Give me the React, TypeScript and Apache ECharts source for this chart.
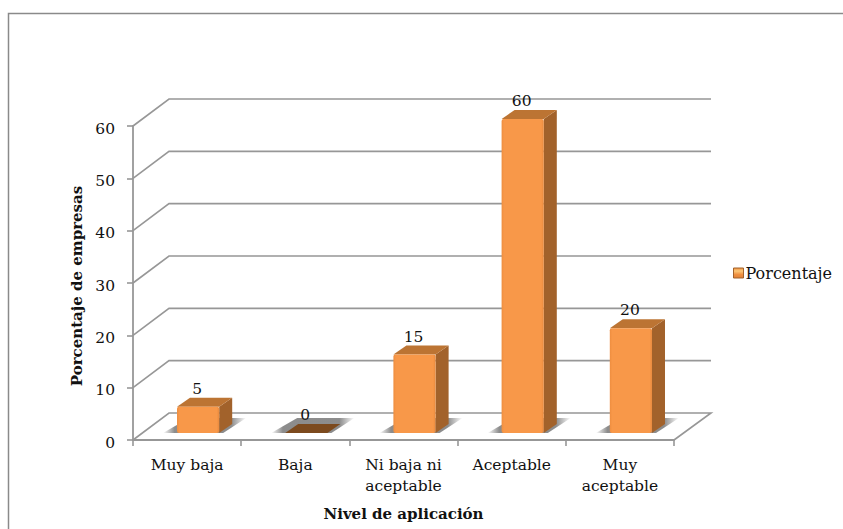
import React, { useEffect, useRef } from "react";
import * as echarts from "echarts";

const categories = ["Muy baja", "Baja", "Ni baja ni\naceptable", "Aceptable", "Muy\naceptable"];
const valores = [5, 0, 15, 60, 20];
const nivelesEje = [0, 10, 20, 30, 40, 50, 60];
const serieNombre = "Porcentaje";
const tituloX = "Nivel de aplicación";
const tituloY = "Porcentaje de empresas";

const FONT = "DejaVu Serif";
const TEXTO = 15.5;
const GRIS = "#979797";
// Oblique projection of the depth axis, in pixels
const FONDO_X = 36;
const FONDO_Y = -27;
// Bars stand half way along the floor
const BARRA_DX = 11;
const BARRA_DY = -7;
const PROF_X = 13;
const PROF_Y = -9;

function renderPared(params: any, api: any) {
  const cs = params.coordSys;
  const [, y] = api.coord([0, api.value(0)]);
  const izq = cs.x;
  const der = cs.x + cs.width;
  const puntos: number[][] = [[izq, y], [izq + FONDO_X, y + FONDO_Y], [der + FONDO_X + 1, y + FONDO_Y]];
  if (api.value(0) === 0) puntos.push([der, y]);
  return {
    type: "polyline",
    shape: { points: puntos },
    style: { stroke: GRIS, lineWidth: 1.6, fill: "none" },
    silent: true,
  };
}

function renderBarra(params: any, api: any) {
  const valor = api.value(1);
  const [cx, yTop] = api.coord([api.value(0), valor]);
  const [, yBase] = api.coord([api.value(0), 0]);
  const ancho = api.size([1, 0])[0] * 0.39;
  const x0 = cx + BARRA_DX - ancho / 2;
  const x1 = x0 + ancho;
  const y0 = yBase + BARRA_DY;
  const y1 = yTop + BARRA_DY;
  const sombra = {
    type: "polygon",
    shape: {
      points: [
        [x0 - 14, y0],
        [x1 + 4, y0],
        [x1 + 27, y0 - 15],
        [x0 + 12, y0 - 15],
      ],
    },
    style: {
      fill: new echarts.graphic.LinearGradient(0, 0, 1, 0, [
        { offset: 0, color: "rgba(120,120,120,0)" },
        { offset: 0.14, color: "rgba(120,120,120,0.85)" },
        { offset: 0.82, color: "rgba(120,120,120,0.85)" },
        { offset: 1, color: "rgba(120,120,120,0)" },
      ]),
    },
  };
  const etiqueta = {
    type: "text",
    style: {
      text: String(valor),
      x: cx + BARRA_DX - 1,
      y: y1 - 18,
      fill: "#111",
      font: `${TEXTO}px "${FONT}"`,
      align: "center",
      verticalAlign: "middle",
    },
  };
  if (valor === 0) {
    return {
      type: "group",
      children: [
        sombra,
        {
          type: "polygon",
          shape: {
            points: [
              [x0, y0],
              [x1, y0],
              [x1 + PROF_X, y0 + PROF_Y],
              [x0 + PROF_X, y0 + PROF_Y],
            ],
          },
          style: { fill: "#7C4A1E" },
        },
        etiqueta,
      ],
    };
  }
  return {
    type: "group",
    children: [
      sombra,
      {
        type: "polygon",
        shape: {
          points: [
            [x1, y0],
            [x1 + PROF_X, y0 + PROF_Y],
            [x1 + PROF_X, y1 + PROF_Y],
            [x1, y1],
          ],
        },
        style: { fill: "#A2622B" },
      },
      {
        type: "polygon",
        shape: {
          points: [
            [x0, y1],
            [x1, y1],
            [x1 + PROF_X, y1 + PROF_Y],
            [x0 + PROF_X, y1 + PROF_Y],
          ],
        },
        style: { fill: "#BC7433" },
      },
      {
        type: "rect",
        shape: { x: x0, y: y1, width: ancho, height: y0 - y1, r: 2 },
        style: {
          fill: new echarts.graphic.LinearGradient(0, 0, 1, 0, [
            { offset: 0, color: "#EE8E40" },
            { offset: 0.06, color: "#F89849" },
            { offset: 0.94, color: "#F89849" },
            { offset: 1, color: "#E88A3E" },
          ]),
        },
      },
      etiqueta,
    ],
  };
}

export default function App() {
  const ref = useRef<HTMLDivElement>(null);

  useEffect(() => {
    const chart = echarts.init(ref.current!, null, { renderer: "svg" });
    const muestra = new echarts.graphic.LinearGradient(0, 0, 0, 1, [
      { offset: 0, color: "#F09040" },
      { offset: 0.3, color: "#FBC878" },
      { offset: 0.65, color: "#F09040" },
      { offset: 1, color: "#E08238" },
    ]);
    chart.setOption({
      animation: false,
      backgroundColor: "#fff",
      textStyle: { fontFamily: FONT },
      grid: { left: 133, top: 126, width: 541, height: 314, containLabel: false },
      legend: {
        show: true,
        left: 733,
        top: 265,
        padding: 0,
        orient: "vertical",
        icon: "rect",
        itemWidth: 10,
        itemHeight: 10,
        itemGap: 0,
        data: [
          {
            name: serieNombre,
            itemStyle: { color: muestra, borderColor: "#A2622B", borderWidth: 1 },
          },
        ],
        textStyle: { fontFamily: FONT, fontSize: 16, color: "#111", padding: [0, 0, 0, -3] },
      },
      xAxis: {
        type: "category",
        data: categories,
        boundaryGap: true,
        name: tituloX,
        nameLocation: "middle",
        nameGap: 66,
        nameTextStyle: { fontFamily: FONT, fontSize: 15, fontWeight: "bold", color: "#111" },
        axisLine: { lineStyle: { color: GRIS, width: 1.8 } },
        axisTick: { show: true, alignWithLabel: false, length: 6, lineStyle: { color: GRIS, width: 1.6 } },
        axisLabel: { fontFamily: FONT, fontSize: TEXTO, color: "#111", margin: 14, lineHeight: 21, interval: 0 },
        splitLine: { show: false },
      },
      yAxis: {
        type: "value",
        min: 0,
        max: 60,
        interval: 10,
        name: tituloY,
        nameLocation: "middle",
        nameGap: 49,
        nameTextStyle: { fontFamily: FONT, fontSize: 15, fontWeight: "bold", color: "#111", padding: [0, 6, 0, 0] },
        axisLine: { show: true, lineStyle: { color: GRIS, width: 1.8 } },
        axisTick: { show: true, length: 6, lineStyle: { color: GRIS, width: 1.6 } },
        // A top-anchored short line box sets the numbers just below their ticks
        axisLabel: { fontFamily: FONT, fontSize: TEXTO, color: "#111", margin: 18, verticalAlign: "top", lineHeight: 5 },
        splitLine: { show: false },
      },
      series: [
        {
          type: "custom",
          name: "pared",
          data: nivelesEje.map((n) => [n]),
          encode: { y: 0 },
          renderItem: renderPared,
          silent: true,
          z: 1,
          clip: false,
        },
        {
          type: "custom",
          name: serieNombre,
          data: valores.map((v, i) => [i, v]),
          encode: { x: 0, y: 1 },
          renderItem: renderBarra,
          clip: false,
          z: 3,
          itemStyle: { color: "#F79646" },
        },
      ],
      graphic: [
        {
          type: "polyline",
          shape: { points: [[8.5, 529], [8.5, 13.5], [843, 13.5]] },
          style: { stroke: "#8a8a8a", lineWidth: 1.5, fill: "none" },
          silent: true,
        },
      ],
    });
    return () => chart.dispose();
  }, []);

  return <div ref={ref} style={{ position: "fixed", left: 0, top: 0, width: 843, height: 529 }} />;
}
